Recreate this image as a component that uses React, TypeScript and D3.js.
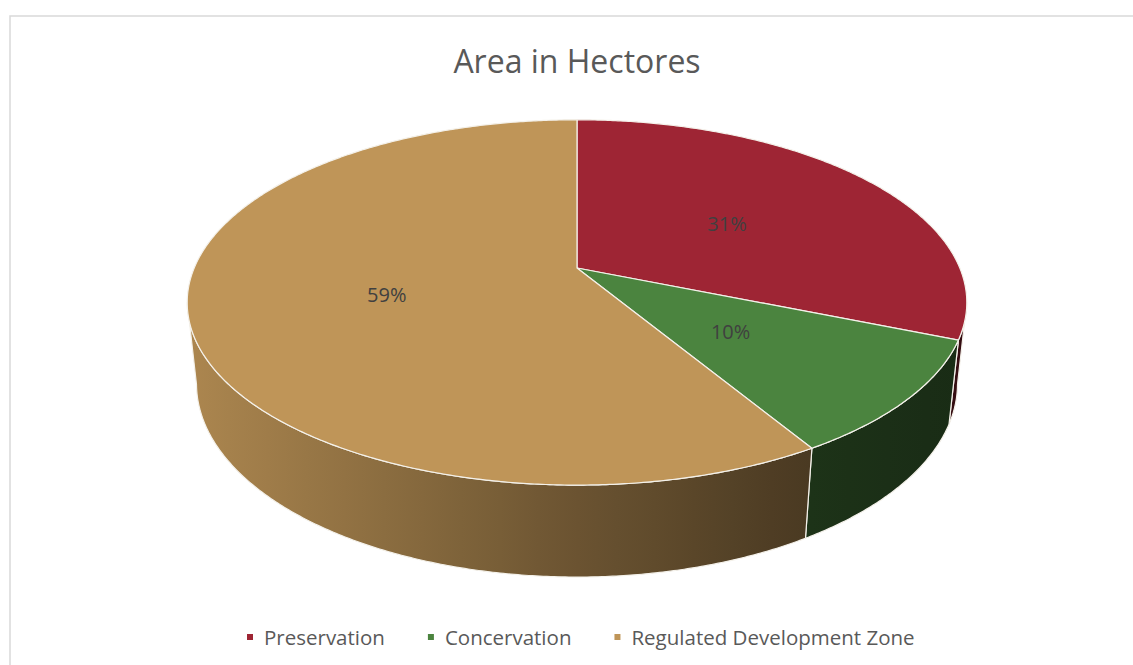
import { useEffect, useRef } from "react"
import * as d3 from "d3"

const categories = ["Preservation", "Concervation", "Regulated Development Zone"]
const areas = [31.2, 10.2, 58.6]
const colors = ["#9e2534", "#4b843f", "#bf9558"]
const chartTitle = "Area in Hectores"

export default function App() {
  const svgRef = useRef<SVGSVGElement>(null)

  useEffect(() => {
    if (!svgRef.current) return
    const svg = d3.select(svgRef.current)
    svg.selectAll("*").remove()

    const width = 1133
    const height = 665
    const font = "'Open Sans', 'Noto Sans', sans-serif"

    // chart frame
    svg.append("rect")
      .attr("x", 10).attr("y", 16)
      .attr("width", width + 20).attr("height", height + 20)
      .attr("fill", "#fff")
      .attr("stroke", "#d9d9d9")
      .attr("stroke-width", 1.5)

    // simple perspective camera for the 3D pie
    const cx = 577, cy = 268
    const alpha = (27.4 * Math.PI) / 180
    const sa = Math.sin(alpha), ca = Math.cos(alpha)
    const D = 4.71, F = 1803, H = 0.241

    const project = (theta: number, r: number, y: number): [number, number] => {
      const X = r * Math.sin(theta)
      const Z = r * Math.cos(theta)
      const depth = D + Z * ca - y * sa
      return [cx + (F * X) / depth, cy - (F * (y * ca + Z * sa)) / depth]
    }

    const arcPoints = (a0: number, a1: number, r: number, y: number) => {
      const n = Math.max(2, Math.ceil(Math.abs(a1 - a0) / 0.008))
      return d3.range(n + 1).map((i) => project(a0 + ((a1 - a0) * i) / n, r, y))
    }

    const line = d3.line()
    const arcs = d3.pie<number>().sort(null).value((d) => d)(areas)
    const total = d3.sum(areas)

    // visible range of outer wall
    const p = D / ca
    const tMin = Math.acos(-1 / p)
    const tMax = 2 * Math.PI - tMin

    const shade = d3.scaleLinear().domain([190, 577, 800, 965]).range([0.9, 0.56, 0.39, 0.33])
    const defs = svg.append("defs")

    arcs.forEach((a, i) => {
      const g = defs.append("linearGradient")
        .attr("id", `wall${i}`)
        .attr("gradientUnits", "userSpaceOnUse")
        .attr("x1", 190).attr("x2", 965).attr("y1", 0).attr("y2", 0)
      d3.range(0, 1.001, 0.05).forEach((o) => {
        const f = shade(190 + o * 775)
        const c = d3.rgb(colors[i])
        g.append("stop")
          .attr("offset", o)
          .attr("stop-color", d3.rgb(c.r * f, c.g * f, c.b * f).formatHex())
      })
    })

    // outer walls
    arcs.forEach((a, i) => {
      const a0 = Math.max(a.startAngle, tMin)
      const a1 = Math.min(a.endAngle, tMax)
      if (a0 >= a1) return
      const pts = [...arcPoints(a0, a1, 1, 0), ...arcPoints(a1, a0, 1, -H)]
      svg.append("path")
        .attr("d", line(pts) + "Z")
        .attr("fill", `url(#wall${i})`)
        .attr("stroke", "#f4f1ea")
        .attr("stroke-width", 1.2)
        .attr("stroke-linejoin", "round")
    })

    // top faces
    arcs.forEach((a, i) => {
      const pts = [project(0, 0, 0), ...arcPoints(a.startAngle, a.endAngle, 1, 0)]
      svg.append("path")
        .attr("d", line(pts) + "Z")
        .attr("fill", colors[i])
        .attr("stroke", "#f4f1ea")
        .attr("stroke-width", 1.2)
        .attr("stroke-linejoin", "round")
    })

    // data labels
    arcs.forEach((a) => {
      const [x, y] = project((a.startAngle + a.endAngle) / 2, 0.5, 0)
      svg.append("text")
        .attr("x", x - 1)
        .attr("y", y + 3)
        .attr("dy", "0.35em")
        .attr("text-anchor", "middle")
        .attr("fill", "#404040")
        .style("font-family", font)
        .style("font-size", "20px")
        .text(`${Math.round((a.data / total) * 100)}%`)
    })

    // title
    svg.append("text")
      .attr("x", 577)
      .attr("y", 73)
      .attr("text-anchor", "middle")
      .attr("fill", "#595959")
      .style("font-family", font)
      .style("font-size", "32px")
      .text(chartTitle)

    // legend
    const legend = svg.append("g").attr("transform", "translate(247, 645)")
    let xPos = 0
    categories.forEach((cat, i) => {
      const item = legend.append("g").attr("transform", `translate(${xPos}, 0)`)
      item.append("rect")
        .attr("x", 0).attr("y", -11)
        .attr("width", 6).attr("height", 6)
        .attr("fill", colors[i])
      const t = item.append("text")
        .attr("x", 17)
        .attr("y", 0)
        .attr("fill", "#595959")
        .style("font-family", font)
        .style("font-size", "20.5px")
        .text(cat)
      const w = (t.node() as SVGTextElement).getComputedTextLength()
      xPos += 17 + w + 43
    })
  }, [])

  return (
    <svg
      ref={svgRef}
      width={1133}
      height={665}
      style={{ position: "absolute", left: 0, top: 0, background: "#fff" }}
    />
  )
}
